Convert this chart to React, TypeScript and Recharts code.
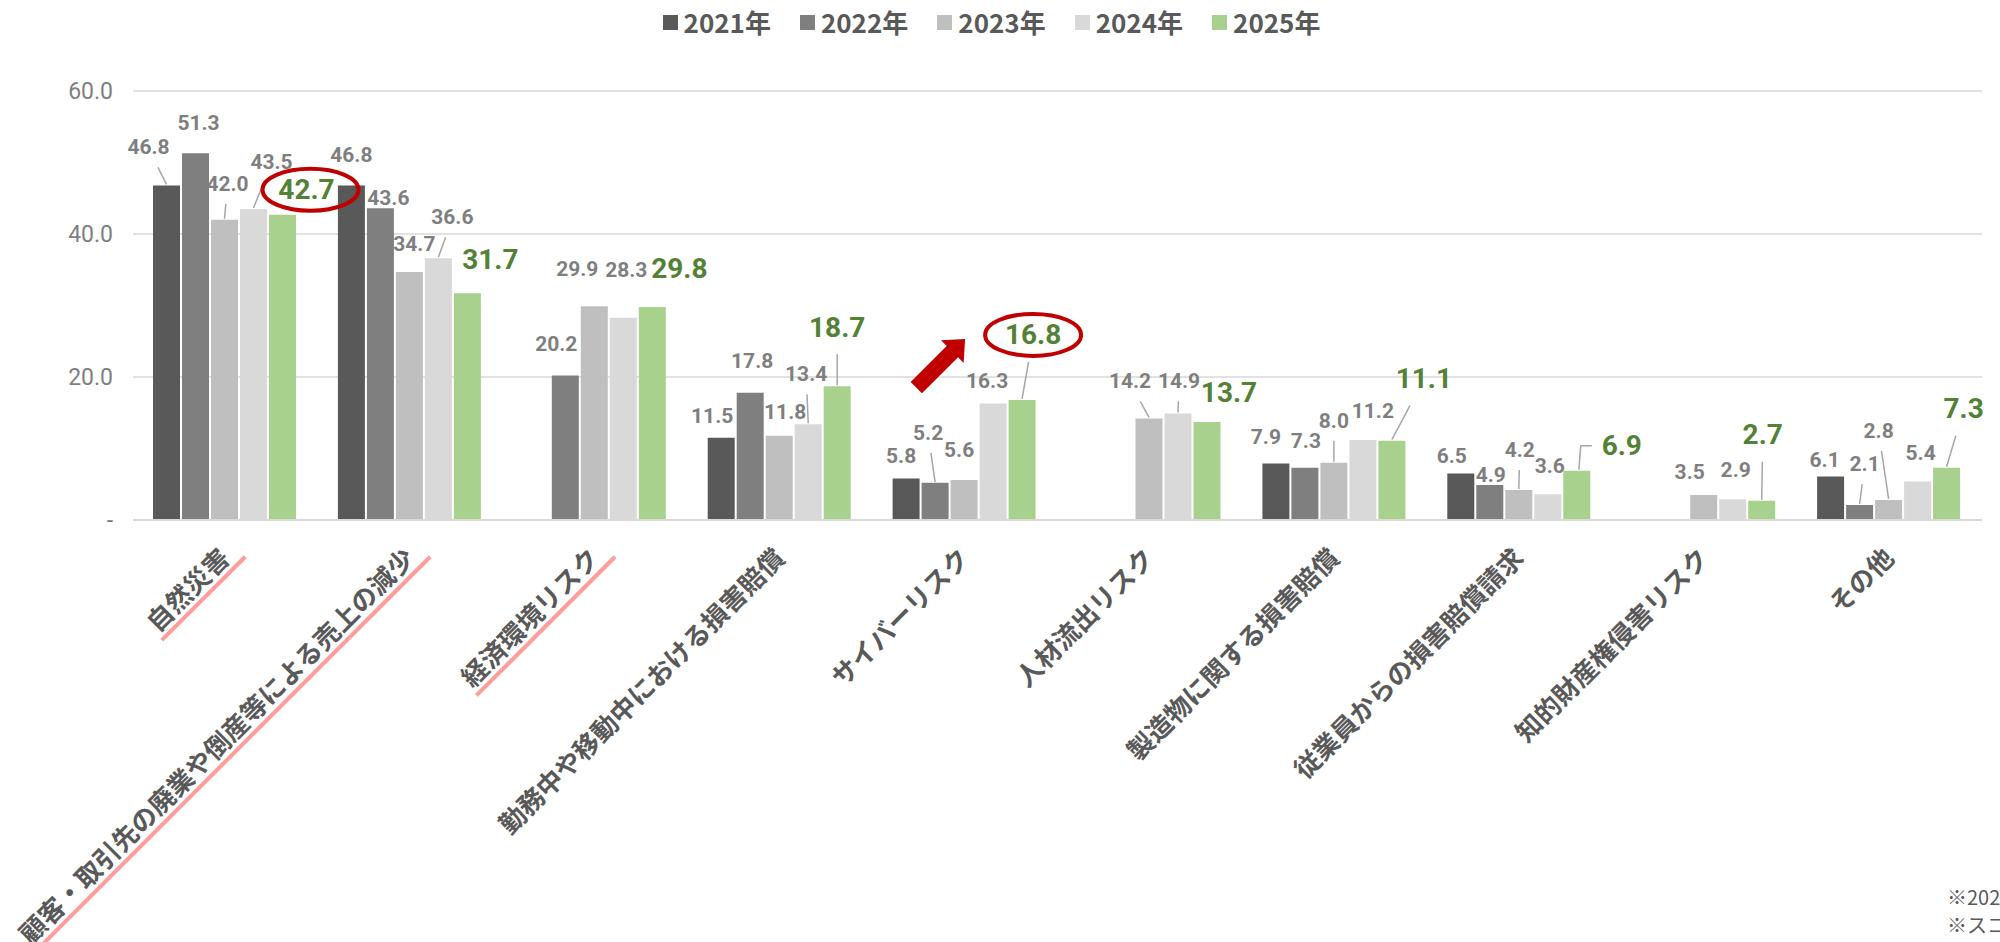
import { BarChart, Bar, XAxis, YAxis, CartesianGrid, Legend, LabelList } from 'recharts';

const categories = [
  '自然災害',
  '顧客・取引先の廃業や倒産等による売上の減少',
  '経済環境リスク',
  '勤務中や移動中における損害賠償',
  'サイバーリスク',
  '人材流出リスク',
  '製造物に関する損害賠償',
  '従業員からの損害賠償請求',
  '知的財産権侵害リスク',
  'その他',
];
const years = ['2021年', '2022年', '2023年', '2024年', '2025年'];
const y2021 = [46.8, 46.8, null, 11.5, 5.8, null, 7.9, 6.5, null, 6.1];
const y2022 = [51.3, 43.6, 20.2, 17.8, 5.2, null, 7.3, 4.9, null, 2.1];
const y2023 = [42.0, 34.7, 29.9, 11.8, 5.6, 14.2, 8.0, 4.2, 3.5, 2.8];
const y2024 = [43.5, 36.6, 28.3, 13.4, 16.3, 14.9, 11.2, 3.6, 2.9, 5.4];
const y2025 = [42.7, 31.7, 29.8, 18.7, 16.8, 13.7, 11.1, 6.9, 2.7, 7.3];
const yTicks = [0, 20, 40, 60];
const underlined = ['自然災害', '顧客・取引先の廃業や倒産等による売上の減少', '経済環境リスク'];
const circled = ['自然災害', 'サイバーリスク'];
const notes = ['※2025年の調査結果', '※スコアは回答割合（%）'];

const seriesKeys = ['y2021', 'y2022', 'y2023', 'y2024', 'y2025'];
const seriesValues = [y2021, y2022, y2023, y2024, y2025];
const colors = ['#595959', '#7f7f7f', '#bfbfbf', '#d9d9d9', '#a9d18e'];
const numFont = "Roboto, 'Noto Sans', sans-serif";

const data = categories.map((name, i) => ({
  name,
  y2021: y2021[i],
  y2022: y2022[i],
  y2023: y2023[i],
  y2024: y2024[i],
  y2025: y2025[i],
}));

// label entries skip the empty (null) bars, so map back to the category index
const presentIdx = seriesValues.map((vals) =>
  vals.map((v, i) => (v == null ? -1 : i)).filter((i) => i >= 0)
);

// label placement (like excel's dragged labels): dx, dy from bar top centre, leader 0/1/2(elbow)
const LABEL_POS: number[][][] = [
  [[-18, -38, 1], [0, -30], [0, 0], [-9, -22], [-5, -23], [0, 0], [-10, -27], [-9, -18], [0, 0], [-6, -16]],
  [[3, -30], [8, -10], [-9, -32], [2, -32], [-7, -50, 1], [0, 0], [1, -27], [1, -10], [0, 0], [5, -41, 1]],
  [[3, -36, 1], [5, -28], [-17, -37], [6, -24], [-5, -30], [-19, -37, 1], [0, -42, 1], [1, -40, 1], [-14, -23], [-10, -69, 1]],
  [[18, -47, 1], [14, -41, 1], [3, -48], [-2, -50, 1], [-6, -22], [1, -32, 1], [10, -29], [2, -28], [3, -29], [3, -28]],
  [[24, -25], [23, -34], [27, -38], [0, -59, 1], [11, -65, 1], [22, -30], [32, -62, 1], [45, -25, 2], [1, -66, 1], [17, -59, 1]],
];

const makeLabel = (s: number) => (props: any) => {
  const { x, y, width, value, index } = props;
  if (value == null) return null;
  const ci = presentIdx[s][index] ?? index;
  const green = s === 4;
  const [dx, dy, leader = 0] = LABEL_POS[s][ci];
  const bx = Number(x) + Number(width) / 2;
  const top = Number(y);
  const lx = bx + dx;
  const ly = top + dy;
  let line = null;
  if (leader === 1) {
    const s0 = green ? 27 : 20;
    const t = s0 / (top - ly);
    line = (
      <line x1={lx + (bx - lx) * t} y1={ly + s0} x2={bx} y2={top - 1} stroke="#a6a6a6" strokeWidth={1.5} />
    );
  } else if (leader === 2) {
    line = (
      <path d={`M${lx - 30},${ly} H${bx + 4} L${bx + 2},${top - 1}`} fill="none" stroke="#a6a6a6" strokeWidth={1.5} />
    );
  }
  const name = categories[ci];
  return (
    <g>
      {line}
      <text
        x={lx}
        y={ly}
        textAnchor="middle"
        dominantBaseline="central"
        fontFamily={numFont}
        fontSize={green ? 28 : 21}
        fontWeight="bold"
        fill={green ? '#538135' : '#7f7f7f'}
      >
        {Number(value).toFixed(1)}
      </text>
      {green && circled.includes(name) && (
        <ellipse cx={lx + (ci === 0 ? 4 : 0)} cy={ly} rx={48} ry={21} fill="none" stroke="#c00000" strokeWidth={4} />
      )}
      {green && name === 'サイバーリスク' && (
        <polygon
          transform={`translate(${lx - 68},${ly + 4}) rotate(-45)`}
          points="0,0 -18,-16 -18,-8 -69,-8 -69,8 -18,8 -18,16"
          fill="#c00000"
        />
      )}
    </g>
  );
};

const CategoryTick = (props: any) => {
  const { x, y, payload, index } = props;
  const label = String(payload.value);
  const n = label.length;
  const hl = underlined.includes(label);
  return (
    <g transform={`translate(${x},${y}) rotate(-45)`}>
      {index === 0 && (
        <defs>
          <filter id="ulShadow" x="-10%" y="-200%" width="120%" height="500%">
            <feGaussianBlur stdDeviation="1.5" />
          </filter>
        </defs>
      )}
      {hl && (
        <>
          <line x1={-24 - n * 26 - 2} y1={44} x2={-10} y2={44} stroke="#000" strokeOpacity={0.25} strokeWidth={4} filter="url(#ulShadow)" />
          <line x1={-24 - n * 26 - 2} y1={40} x2={-12} y2={40} stroke="#ff9c9c" strokeWidth={4} />
        </>
      )}
      <text x={-24} y={21} textAnchor="end" dominantBaseline="central" fontSize={26} fontWeight="bold" fill="#595959">
        {label}
      </text>
    </g>
  );
};

const renderLegend = () => (
  <div style={{ display: 'flex', justifyContent: 'center', alignItems: 'center', height: 44 }}>
    {years.map((yr, i) => (
      <div key={yr} style={{ display: 'flex', alignItems: 'center', marginRight: i < years.length - 1 ? 29 : 0 }}>
        <span style={{ width: 15, height: 15, background: colors[i], display: 'inline-block', marginRight: 6 }} />
        <span style={{ fontSize: 26, fontWeight: 'bold', color: '#595959', lineHeight: '44px' }}>{yr}</span>
      </div>
    ))}
  </div>
);

export default function App() {
  return (
    <div
      style={{
        position: 'absolute',
        left: 0,
        top: 0,
        width: 2000,
        height: 942,
        overflow: 'hidden',
        background: '#fff',
        fontFamily: "'Noto Sans CJK JP', 'Noto Sans', sans-serif",
      }}
    >
      <BarChart
        width={2000}
        height={942}
        data={data}
        margin={{ top: 47, right: 18, left: 0, bottom: 0 }}
        barCategoryGap={20}
        barGap={2}
      >
        <CartesianGrid vertical={false} stroke="#d9d9d9" strokeWidth={1.5} />
        <XAxis
          dataKey="name"
          interval={0}
          tickLine={false}
          tickSize={0}
          tickMargin={0}
          axisLine={{ stroke: '#d9d9d9', strokeWidth: 2 }}
          height={422}
          tick={<CategoryTick />}
        />
        <YAxis
          domain={[0, 60]}
          ticks={yTicks}
          tickFormatter={(v: number) => (v === 0 ? '-' : v.toFixed(1))}
          axisLine={false}
          tickLine={false}
          tickSize={0}
          tickMargin={20}
          width={133}
          tick={{ fill: '#7f7f7f', fontSize: 23, fontFamily: numFont }}
        />
        <Legend
          verticalAlign="top"
          align="center"
          content={renderLegend}
          wrapperStyle={{ top: 0, left: 0, width: 1983, height: 44 }}
        />
        {seriesKeys.map((k, s) => (
          <Bar key={k} dataKey={k} name={years[s]} fill={colors[s]} isAnimationActive={false}>
            <LabelList dataKey={k} content={makeLabel(s)} />
          </Bar>
        ))}
      </BarChart>
      {notes.map((t, i) => (
        <div
          key={t}
          style={{
            position: 'absolute',
            left: 1947,
            top: 883 + i * 28,
            fontSize: 20,
            lineHeight: '28px',
            color: '#595959',
            whiteSpace: 'nowrap',
          }}
        >
          {t}
        </div>
      ))}
    </div>
  );
}
